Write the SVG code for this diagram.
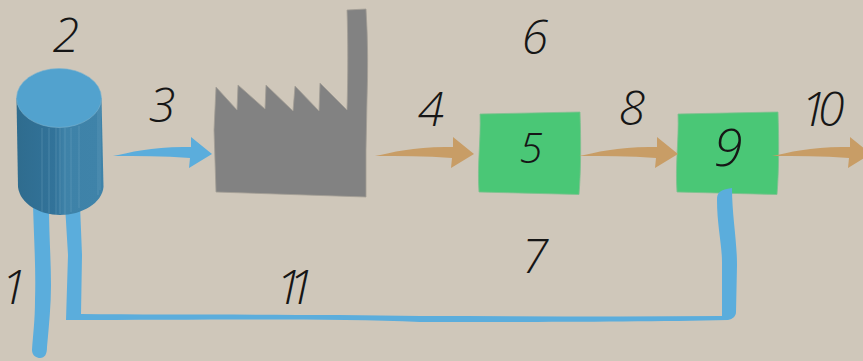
<svg xmlns="http://www.w3.org/2000/svg" width="863" height="361" viewBox="0 0 863 361">
<style>
.lb{font-family:"Open Sans","Liberation Sans",sans-serif;font-weight:300;font-style:italic;font-size:48px;fill:#161616;text-anchor:middle}
.pipe{fill:#5baddc}
.tan{fill:#c89d66}
.box{fill:#4ac776;stroke:#7fc08f;stroke-width:.8}
.st{stroke:#7fb0c8;stroke-width:.8;opacity:.42;fill:none}
</style>
<defs>
<linearGradient id="cyl" x1="0" x2="1" y1="0" y2="0"><stop offset="0" stop-color="#2f6c8e"/><stop offset=".45" stop-color="#32739a"/><stop offset=".55" stop-color="#3e82a8"/><stop offset="1" stop-color="#3f83a9"/></linearGradient>
<path id="arr" d="M0 2C18-2 42-8 78-7L78-17 99 0 76 14 77 4C50 2 25 2 0 2Z"/>
</defs>
<rect width="863" height="361" fill="#cfc7ba"/>
<g id="factory">
<path fill="#828282" stroke="#a39e96" stroke-width=".8" d="M216 87 237 110 238 85 265 109 266 85 293 111 295 86 319 111 320 83 347 110C348 75 348 40 347 10L366 9C368 40 368 70 367 100L366 150 366 197 216 192 214 130Z"/>
</g>
<g id="box5"><path class="box" d="M480 114 580 112C581 140 581 170 579 194.500L479 192C477 165 481 140 480 114Z"/></g>
<g id="box9"><path class="box" d="M678 114 778 112C779 140 779 170 777 194.500L677 192C675 165 679 140 678 114Z"/></g>
<g id="connectors">
<path class="pipe" d="M33 205C34 240 36 270 35 300 35 320 33 335 32 350 32 356 37 358 40 358 45 358 47 354 47 347 49 325 51 305 51 285 51 260 49 235 49 205Z"/>
<path class="pipe" d="M65 205 68 255 66 320C200 320 330 318 420 322 520 322 640 322 728 320 733 319 736 316 736 312L737 265C737 240 732 215 732 188 720 190 717 192 717 200 717 225 722 245 722 262L722 316C620 317 520 316 420 316 310 314 180 315 81 314L82 255 80 205Z"/>
<use class="pipe" href="#arr" x="113" y="154"/>
<use class="tan" href="#arr" x="375" y="154"/>
<use class="tan" href="#arr" x="579" y="154"/>
<use class="tan" href="#arr" x="772" y="154"/>
</g>
<g id="tank">
<path fill="url(#cyl)" d="M16.500 98 18 187C20 204 40 215 60 215 82 215 102 203 103.500 187L101.500 98Z"/>
<path class="st" d="M42 128V212M49 128V213M56 128V215M60 128V214M65 128V214M71 128V212M79 126V208M98 110V195M100 105V190"/>
<ellipse cx="59" cy="98" rx="42.500" ry="29.500" fill="#52a2ce" stroke="#7db4cf" stroke-width=".6"/>
</g>
<g id="labels">
<text class="lb" x="14" y="304">1</text>
<text class="lb" x="66" y="52">2</text>
<text class="lb" x="162" y="122">3</text>
<text class="lb" x="431" y="126">4</text>
<text class="lb" x="531" y="163" style="font-size:42px">5</text>
<text class="lb" x="535" y="54">6</text>
<text class="lb" x="535" y="273">7</text>
<text class="lb" x="632" y="125">8</text>
<text class="lb" x="728" y="166" style="font-size:52px">9</text>
<text class="lb" x="818" y="126" style="letter-spacing:-9px">10</text>
<text class="lb" x="288" y="304" style="letter-spacing:-14px">11</text>
</g>
</svg>
